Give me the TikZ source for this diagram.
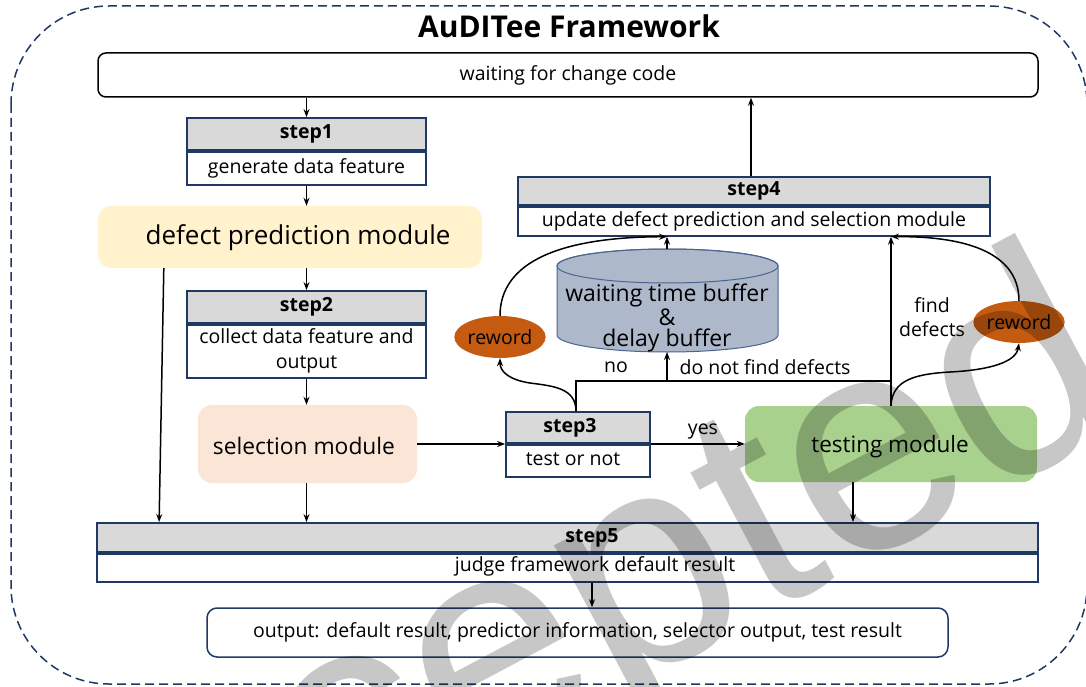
\documentclass[tikz,border=0pt]{standalone}
\usepackage{fontspec}
\setmainfont{Open Sans}
\newfontfamily\wmfont{Liberation Sans}
\usetikzlibrary{arrows.meta,calc,shapes.geometric}
\definecolor{navy}{HTML}{203864}
\definecolor{hgray}{HTML}{D9D9D9}
\definecolor{defcol}{HTML}{FFF2CC}
\definecolor{selcol}{HTML}{FBE5D6}
\definecolor{tstcol}{HTML}{A9D18E}
\definecolor{cylcol}{HTML}{ADB9CA}
\definecolor{cylline}{HTML}{4C6490}
\definecolor{rewcol}{HTML}{C55A11}
\tikzset{
  box/.style={draw=navy, line width=1.8pt, rectangle, inner sep=0pt, align=center},
  hdr/.style={box, fill=hgray, font=\bfseries\fontsize{19.5}{23}\selectfont},
  bdy/.style={box, fill=white, font=\fontsize{19.5}{25}\selectfont},
  modl/.style={rectangle, rounded corners=13pt, inner sep=0pt, align=center},
  arr/.style={-{Stealth[length=8pt,width=6pt]}, line width=1.5pt},
  ln/.style={line width=1.5pt},
  lbl/.style={font=\fontsize{19.5}{24}\selectfont, inner sep=0pt, align=center},
  hlbl/.style={font=\bfseries\fontsize{19.5}{23}\selectfont, inner sep=0pt},
  rew/.style={ellipse, fill=rewcol, inner sep=0pt, minimum width=69pt, minimum height=42pt, font=\fontsize{19.5}{22}\selectfont},
  wm/.style={font=\wmfont\fontsize{305}{305}\selectfont, text=black, text opacity=0.22, inner sep=0pt, anchor=base west, rotate=28},
}
\begin{document}
\begin{tikzpicture}[x=1pt,y=-1pt]
\useasboundingbox (0,0) rectangle (1086,687);
% outer frame
\draw[navy, line width=1.5pt, dash pattern=on 9pt off 5pt, rounded corners=98pt] (11,6) rectangle (1087,684);
\node[font=\bfseries\fontsize{30}{34}\selectfont, inner sep=0pt, anchor=base] (title) at (569,38) {AuDITee Framework};

% waiting box
\node[draw=black, line width=1.5pt, rounded corners=8pt, minimum width=940pt, minimum height=44pt, inner sep=0pt, font=\fontsize{19.5}{23}\selectfont] (wait) at (568,75) {waiting for change code};

% step1
\node[hdr, minimum width=239pt, minimum height=32pt] (s1h) at (306.5,134) {step1};
\node[bdy, minimum width=239pt, minimum height=33pt, anchor=north] (s1b) at (s1h.south) {generate data feature};

% defect prediction module
\node[modl, fill=defcol, minimum width=384pt, minimum height=62pt] (defect) at (290,237) {};
\node[lbl, font=\fontsize{26}{30}\selectfont] (defectt) at (298,238) {defect prediction module};

% step2
\node[hdr, minimum width=239pt, minimum height=32pt] (s2h) at (306.5,307) {step2};
\node[bdy, minimum width=239pt, minimum height=53pt, anchor=north] (s2b) at (s2h.south) {collect data feature and\\output};

% selection module
\node[modl, fill=selcol, rounded corners=14pt, minimum width=219pt, minimum height=78pt] (sel) at (307.5,444) {};
\node[lbl, font=\fontsize{22.8}{26}\selectfont] (selt) at (304,446) {selection module};

% step3
\node[hdr, minimum width=144pt, minimum height=31pt] (s3h) at (578,427.5) {};
\node[bdy, minimum width=144pt, minimum height=32pt, anchor=north] (s3b) at (s3h.south) {};
\node[hlbl] (s3ht) at (570,427.5) {step3};
\node[lbl] (s3bt) at (573,459) {test or not};

% testing module
\node[modl, fill=tstcol, rounded corners=14pt, minimum width=292pt, minimum height=76pt] (test) at (891,444) {};
\node[lbl, font=\fontsize{22.5}{26}\selectfont] (testt) at (890,447) {testing module};

% step4
\node[hdr, minimum width=472pt, minimum height=28pt] (s4h) at (754,191) {step4};
\node[bdy, minimum width=472pt, minimum height=29pt, anchor=north] (s4b) at (s4h.south) {update defect prediction and selection module};

% step5
\node[hdr, minimum width=941pt, minimum height=29pt] (s5h) at (567.5,537.5) {};
\node[bdy, minimum width=941pt, minimum height=28pt, anchor=north] (s5b) at (s5h.south) {};
\node[hlbl] (s5ht) at (592,537.5) {step5};
\node[lbl] (s5bt) at (595,566) {judge framework default result};

% output
\node[draw=navy, line width=1.5pt, rounded corners=10pt, minimum width=741pt, minimum height=49pt, inner sep=0pt, font=\fontsize{19.5}{23}\selectfont] (out) at (577.5,632.5) {output: default result, predictor information, selector output, test result};

% cylinder
\filldraw[fill=cylcol, draw=cylline, line width=1pt] (557,266) -- (557,335) arc[start angle=180, end angle=0, x radius=110.5, y radius=17] -- (778,266) arc[start angle=0, end angle=-180, x radius=110.5, y radius=17] -- cycle;
\draw[cylline, line width=1pt] (667.5,266) ellipse [x radius=110.5, y radius=17];
\node[lbl, font=\fontsize{23}{21}\selectfont] (buf) at (667,318) {waiting time buffer\\\&\\delay buffer};
\coordinate (cyltop) at (667,249);
\coordinate (cylbot) at (667,352);

% reword ellipses
\node[rew] (rw1) at (500,337) {reword};
\node[rew] (rw2) at (1019,322) {reword};

% helper coordinates
\coordinate (s3top) at ($(s3h.north)+(-2,0)$);
\coordinate (s4top) at ($(s4h.north)+(-3,0)$);
\coordinate (hy) at (0,381);
\coordinate (c853) at (853,500);

% connectors
\draw[arr] (s1h.north |- wait.south) -- (s1h.north);
\draw[arr] (s1b.south) -- (s1b.south |- defect.north);
\draw[arr] (s2h.north |- defect.south) -- (s2h.north);
\draw[arr] (s2b.south) -- (s2b.south |- sel.north);
\draw[arr] (sel.east) -- (sel.east -| s3h.west);
\draw[arr] (s3h.south east) -- (s3h.south east -| test.west);
\node[lbl] (yes) at (703,432) {yes};
\draw[arr] (test.south -| c853) -- (s5h.north -| c853);
\draw[arr] (sel.south -| s1h.south) -- (s5h.north -| s1h.south);
\draw[arr] ($(defect.south west)+(66,0)$) -- ($(s5h.north west)+(63,0)$);
\draw[arr] (s5b.south -| s5ht) -- (out.north -| s5ht);
\draw[arr] (s4top) -- (s4top |- wait.south);
\draw[arr] (cyltop) -- (s4b.south -| cyltop);
\draw[ln] (s3top) -- (s3top |- hy) -- (hy -| test.north);
\draw[arr] (hy -| cylbot) -- (cylbot);
\draw[arr] (test.north) -- (test.north |- s4b.south);
\node[lbl] (no) at (616,367) {no};
\node[lbl] (dnf) at (765,367) {do not find defects};
\node[lbl] (fd) at (932,317) {find\\defects};

% curves
\draw[arr] (s3top) .. controls (576,388) and (553,386) .. (530,383) .. controls (510,380) and (500,372) .. (rw1.south);
\draw[arr] (rw1.north) .. controls (500,262) and (560,237) .. (s4b.south -| cyltop);
\draw[arr] (test.north) .. controls (892,380) and (915,374) .. (950,372) .. controls (990,370) and (1016,362) .. (rw2.south);
\draw[arr] (rw2.north) .. controls (1019,250) and (960,236) .. (s4b.south -| test.north);

% watermark "Accepted"
\begin{scope}[shift={(837.3,577.8)}, rotate=28]
\node[wm] (wmA) at (-932.4,0) {A};
\node[wm] (wmc1) at (-729,0) {c};
\node[wm] (wmc2) at (-576.5,0) {c};
\node[wm] (wme1) at (-424,0) {e};
\node[wm] (wmp) at (-254.4,0) {p};
\node[wm] (wmt) at (-84.8,0) {t};
\node[wm] (wme2) at (0,0) {e};
\node[wm] (wmd) at (169.6,0) {d};
\end{scope}
\end{tikzpicture}
\end{document}
